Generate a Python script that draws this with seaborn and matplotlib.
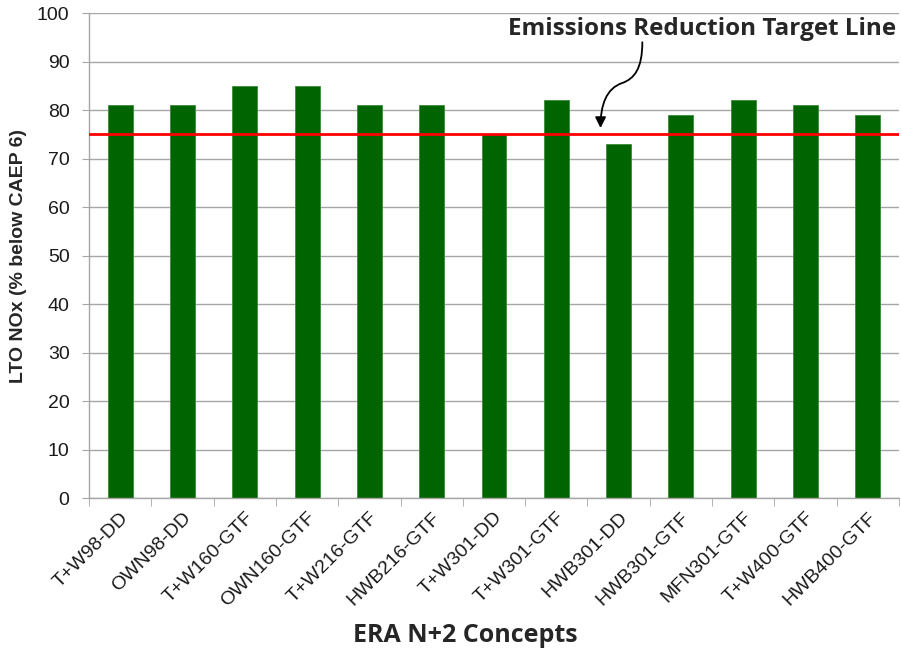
import matplotlib
matplotlib.use("Agg")
import matplotlib.pyplot as plt
from matplotlib.path import Path
from matplotlib.patches import FancyArrowPatch
from matplotlib.ticker import FixedLocator
import seaborn as sns
import pandas as pd

concepts = ["T+W98-DD", "OWN98-DD", "T+W160-GTF", "OWN160-GTF", "T+W216-GTF",
            "HWB216-GTF", "T+W301-DD", "T+W301-GTF", "HWB301-DD", "HWB301-GTF",
            "MFN301-GTF", "T+W400-GTF", "HWB400-GTF"]
lto_nox = [81, 81, 85, 85, 81, 81, 75, 82, 73, 79, 82, 81, 79]
target = 75
y_ticks = list(range(0, 101, 10))

sns.set_style("white")
plt.rcParams["font.family"] = ["Liberation Sans", "DejaVu Sans"]

df = pd.DataFrame({"concept": concepts, "nox": lto_nox})

fig = plt.figure(figsize=(9.03, 6.57), dpi=100)
ax = fig.add_axes([0.0986, 0.242, 0.897, 0.738])

ax.yaxis.grid(True, color="#a6a6a6", lw=1)
ax.set_axisbelow(True)

sns.barplot(data=df, x="concept", y="nox", color="#006400", width=0.4,
            saturation=1, edgecolor="#3c8a3c", linewidth=0.6, ax=ax)

ax.axhline(target, color="red", lw=2, zorder=3)

ax.set_ylim(0, 100)
ax.set_xlim(-0.5, len(concepts) - 0.5)
ax.set_yticks(y_ticks)
ax.tick_params(axis="y", labelsize=14, length=5, color="#a6a6a6", direction="out",
               left=True, pad=9, labelcolor="#1a1a1a")
ax.set_xticks(range(len(concepts)))
ax.set_xticklabels(concepts, rotation=45, ha="right", rotation_mode="anchor",
                   fontsize=14, color="#1a1a1a")
ax.tick_params(axis="x", which="major", length=0, pad=8)
ax.xaxis.set_minor_locator(FixedLocator([i - 0.5 for i in range(len(concepts) + 1)]))
ax.tick_params(axis="x", which="minor", length=6, color="#a6a6a6", bottom=True)

for side in ["top", "right"]:
    ax.spines[side].set_visible(False)
for side in ["left", "bottom"]:
    ax.spines[side].set_color("#a6a6a6")
    ax.spines[side].set_linewidth(1)

ax.set_xlabel("ERA N+2 Concepts", fontsize=18, fontweight="bold",
              family=["Open Sans", "DejaVu Sans"], va="center")
ax.xaxis.set_label_coords((466 - 89) / 811, -0.283)
ax.set_ylabel("LTO NOx (% below CAEP 6)", fontsize=14, fontweight="bold", va="center")
ax.yaxis.set_label_coords((18 - 89) / 811, 0.5)

ax.text(9.34, 96.7, "Emissions Reduction Target Line", ha="center", va="center",
        fontsize=17.5, fontweight="bold", family=["Open Sans", "DejaVu Sans"],
        clip_on=False)

verts = [(8.38, 94.0), (8.38, 88.5), (8.25, 86.5), (8.06, 85.6),
         (7.80, 84.5), (7.71, 81.0), (7.71, 76.3)]
codes = [Path.MOVETO, Path.CURVE4, Path.CURVE4, Path.CURVE4,
         Path.CURVE4, Path.CURVE4, Path.CURVE4]
arrow = FancyArrowPatch(path=Path(verts, codes), arrowstyle="-|>",
                        mutation_scale=16, color="black", lw=1.3, zorder=5)
ax.add_patch(arrow)

fig.savefig("out.png", dpi=100)
